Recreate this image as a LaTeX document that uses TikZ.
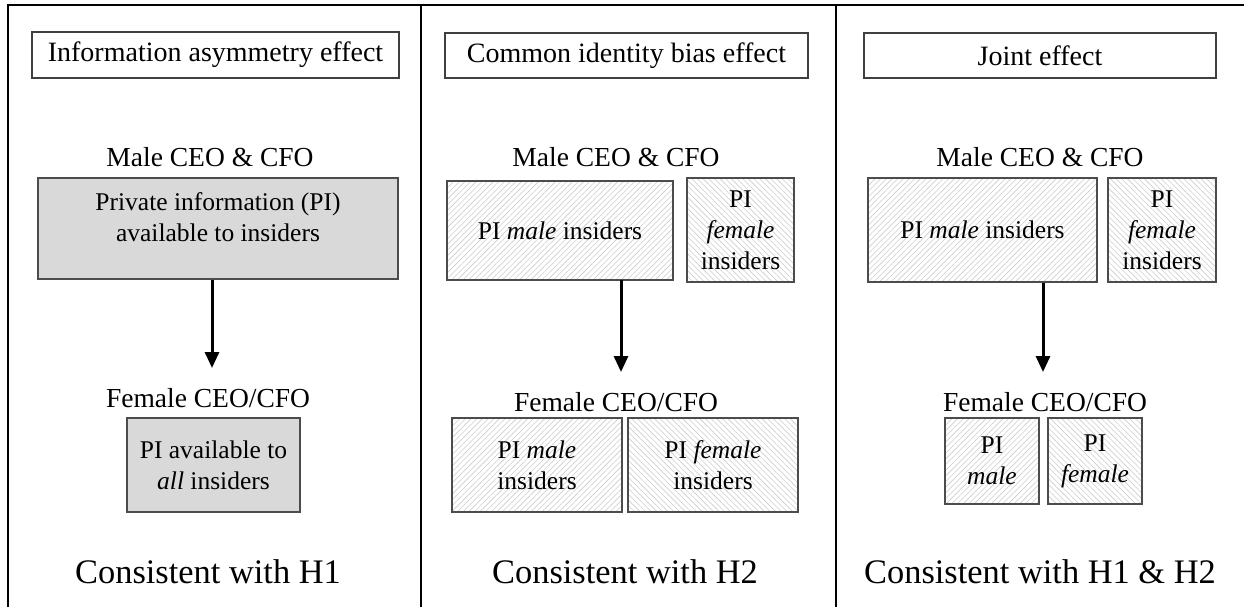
\documentclass[tikz,border=0pt]{standalone}
\usepackage{fontspec}
\setmainfont{Liberation Serif}
\usetikzlibrary{arrows.meta}
\usetikzlibrary{patterns.meta}

\tikzset{
  frameline/.style={line width=1pt},
  titlebox/.style={draw=black!75, line width=0.6pt, inner sep=0pt,
    font=\fontsize{14}{16}\selectfont},
  ceolabel/.style={inner sep=0pt, font=\fontsize{13.75}{16}\selectfont},
  pibox/.style={draw=black!70, line width=0.6pt, inner sep=0pt, align=center,
    font=\fontsize{12.75}{15.5}\selectfont},
  pitext/.style={inner sep=0pt, align=center, font=\fontsize{12.75}{15.5}\selectfont},
  grayfill/.style={pibox, fill=gray!30},
  malehatch/.style={pibox, pattern={Lines[angle=45,distance=2pt,line width=0.3pt]},
    pattern color=gray!40},
  femalehatch/.style={pibox, pattern={Lines[angle=-45,distance=2pt,line width=0.3pt]},
    pattern color=gray!40},
  flow/.style={line width=1.5pt, -{Triangle[width=7pt,length=8pt]}},
  verdict/.style={inner sep=0pt, font=\fontsize{17.2}{20}\selectfont}
}

\begin{document}
\begin{tikzpicture}[x=0.5pt,y=-0.5pt]
  \useasboundingbox (0,0) rectangle (1244,607);
  \draw[frameline] (8,607) -- (8,5) -- (1244,5);
  \draw[frameline] (421,5) -- (421,607);
  \draw[frameline] (836,5) -- (836,607);

  % information asymmetry
  \node[titlebox, minimum width=183.5pt, minimum height=23pt] (t1) at (215.5,55) {Information asymmetry effect};
  \node[ceolabel] (male1) at (210,157) {Male CEO \& CFO};
  \node[grayfill, minimum width=180pt, minimum height=50.5pt] (p1) at (218,228.5) {};
  \node[pitext] (p1text) at (218,217.5) {Private information (PI)\\available to insiders};
  \coordinate (tip1) at (212,368);
  \draw[flow] (p1.south -| tip1) -- (tip1);
  \node[ceolabel] (fem1) at (208,398) {Female CEO/CFO};
  \node[grayfill, minimum width=86.5pt, minimum height=47pt] (q1) at (213.5,465) {PI available to\\\textit{all} insiders};
  \node[verdict] (h1) at (208,572) {Consistent with H1};

  % common identity bias
  \node[titlebox, minimum width=181.5pt, minimum height=22.5pt] (t2) at (626.5,55.5) {Common identity bias effect};
  \node[ceolabel] (male2) at (616,157) {Male CEO \& CFO};
  \node[malehatch, minimum width=113pt, minimum height=49.5pt] (m2) at (560,230.5) {PI \textit{male} insiders};
  \node[femalehatch, minimum width=53.5pt, minimum height=52pt] (w2) at (740.5,230) {PI\\\textit{female}\\insiders};
  \coordinate (tip2) at (621,372);
  \draw[flow] (m2.south -| tip2) -- (tip2);
  \node[ceolabel] (fem2) at (616,402) {Female CEO/CFO};
  \node[malehatch, minimum width=85pt, minimum height=47pt] (a2) at (537,465) {PI \textit{male}\\insiders};
  \node[femalehatch, minimum width=85pt, minimum height=47pt] (b2) at (713,465) {PI \textit{female}\\insiders};
  \node[verdict] (h2) at (625,572) {Consistent with H2};

  % joint
  \node[titlebox, minimum width=176pt, minimum height=22.5pt] (t3) at (1040,55.5) {Joint effect};
  \node[ceolabel] (male3) at (1040,157) {Male CEO \& CFO};
  \node[malehatch, minimum width=114.5pt, minimum height=52pt] (m3) at (982.5,230) {PI \textit{male} insiders};
  \node[femalehatch, minimum width=54pt, minimum height=52pt] (w3) at (1162,230) {PI\\\textit{female}\\insiders};
  \coordinate (tip3) at (1043,372);
  \draw[flow] (m3.south -| tip3) -- (tip3);
  \node[ceolabel] (fem3) at (1045,402) {Female CEO/CFO};
  \node[malehatch, minimum width=47pt, minimum height=43pt] (c3) at (992,461) {PI\\\textit{male}};
  \node[femalehatch, minimum width=47pt, minimum height=43pt] (d3) at (1095,461) {PI\\\textit{female}};
  \node[verdict] (h3) at (1040,572) {Consistent with H1 \& H2};
\end{tikzpicture}
\end{document}
